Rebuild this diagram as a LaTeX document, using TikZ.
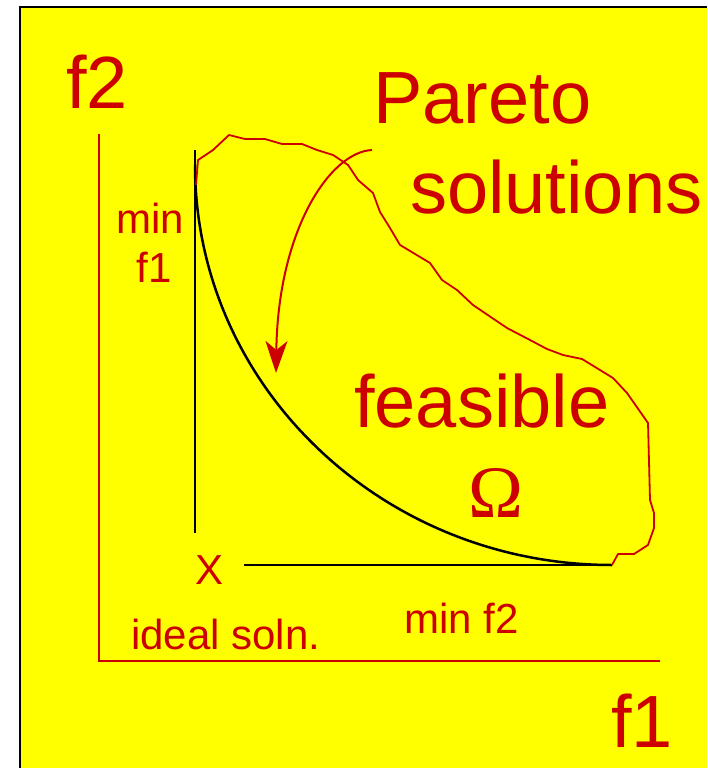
\documentclass[tikz,border=0pt]{standalone}
\usepackage{fontspec}
\setmainfont{Liberation Sans}
\newfontfamily\omegafont{Liberation Serif}
\usetikzlibrary{arrows.meta, positioning}

\definecolor{pred}{HTML}{CC0000}
\definecolor{pyellow}{HTML}{FFFF00}

\begin{document}
\begin{tikzpicture}[
x=1pt, y=-1pt,
big/.style={
text=pred,
font=\fontsize{74}{80}\selectfont,
inner sep=0pt
},
small/.style={
text=pred,
font=\fontsize{42}{48}\selectfont,
inner sep=0pt
},
axis/.style={
draw=pred,
line width=2pt
},
border/.style={
draw=pred,
line width=1.8pt,
line join=round
},
curve/.style={
draw=black,
line width=2.5pt
},
arrow/.style={
draw=pred,
line width=2pt,
-{Stealth[length=32pt, width=22pt, inset=9pt]}
}
]

\useasboundingbox (0,0) rectangle (707,768);
\fill [white] (0,0) rectangle (707,768);
\fill [pyellow] (20,7) rectangle (707,768);
\draw [line width=2pt] (20,768) -- (20,7) -- (707,7);

% axes
\coordinate (top) at (99,134);
\coordinate (O) at (99,661);
\coordinate (right) at (660,661);
\draw [axis] (top) -- (O) -- (right);

% min lines and the front
\coordinate (a) at (195,150);
\coordinate (b) at (195,533);
\coordinate (c) at (244,565);
\coordinate (d) at (612,565);
\draw [curve] (a) -- (b);
\draw [curve] (c) -- (d);
\draw [curve] (195,165) .. controls (195,386) and (382,565) .. (d);

% feasible region
\draw [border] (196,185) -- (198,160) -- (213,150) -- (229,135) -- (245,139)
-- (265,139) -- (282,144) -- (302,144) -- (317,150) -- (333,155)
-- (348,165) -- (358,180) -- (373,193) -- (380,212) -- (390,228)
-- (400,245) -- (430,263) -- (442,280) -- (457,290) -- (473,305)
-- (507,328) -- (530,340) -- (547,349) -- (563,355) -- (582,359)
-- (613,378) -- (627,393) -- (648,423) -- (650,500) -- (654,513)
-- (654,528) -- (648,545) -- (634,554) -- (618,554) -- (d);

% labels
\node (f2) [big, anchor=base west] at (66,108) {f2};
\node (pareto) [big, anchor=base west] at (373,123) {Pareto};
\node (sol) [big, anchor=base west] at (410,213) {solutions};
\node (feas) [big, anchor=base west] at (354,427) {feasible};
\node (omega) [big, font=\omegafont\fontsize{74}{80}\selectfont, anchor=base]
at (496,517) {Ω};
\node (mn) [small, anchor=base] at (150,233) {min};
\node (mf) [small, anchor=base] at (154,282) {f1};
\node (X) [small, anchor=base] at (210,584) {X};
\node (ideal) [small, anchor=base west] at (131,649) {ideal soln.};
\node (minf2) [small, anchor=base west] at (404,633) {min f2};
\node (f1) [big, anchor=base west] at (611,747) {f1};

% pointer
\coordinate (p) at (372,150);
\coordinate (q) at (276,373);
\draw [arrow] (p) .. controls (330,152) and (278,230) .. (q);

\end{tikzpicture}
\end{document}
